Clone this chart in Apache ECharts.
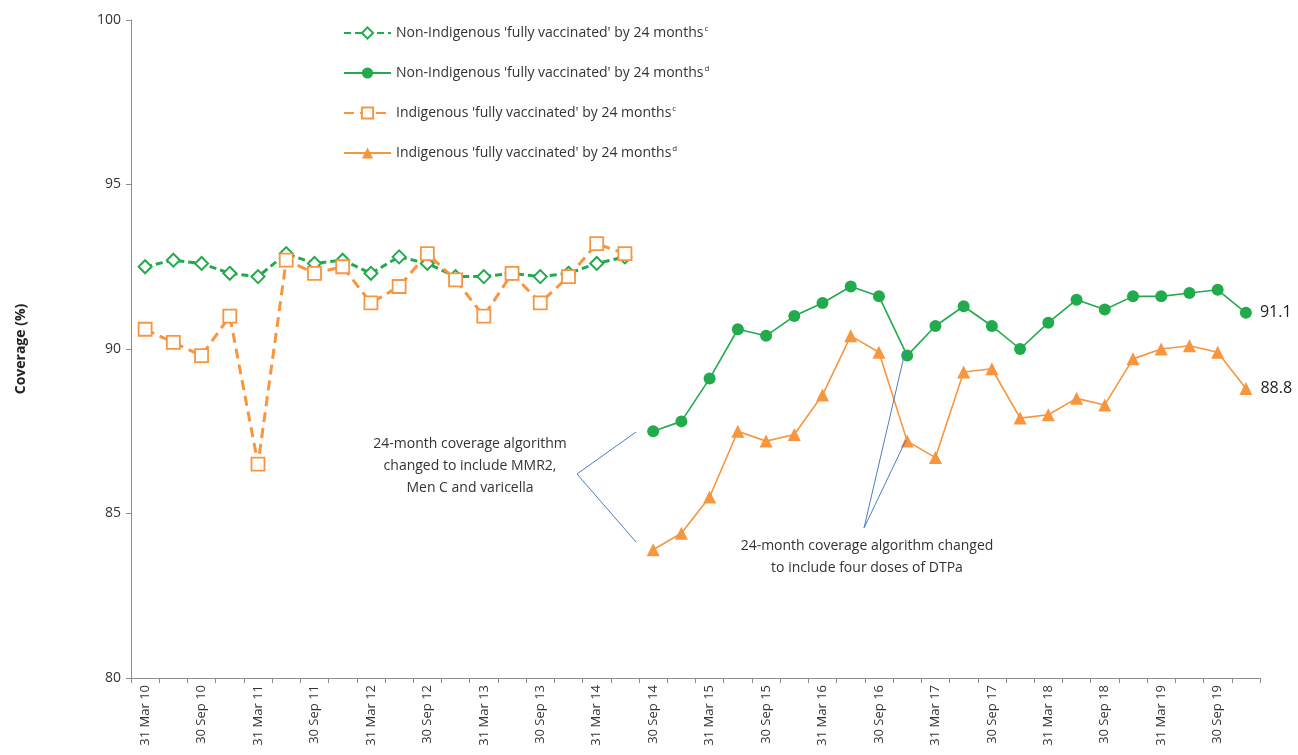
<!DOCTYPE html>
<html>
<head>
<meta charset="utf-8">
<script src="https://cdn.jsdelivr.net/npm/echarts@6/dist/echarts.min.js"></script>
<style>
  html, body { margin: 0; padding: 0; background: #fff; }
  #chart { width: 1298px; height: 755px; }
</style>
</head>
<body>
<div id="chart"></div>
<script>
// quarterly reporting dates, Mar 2010 .. Dec 2019
var months = ['31 Mar', '30 Jun', '30 Sep', '31 Dec'];
var categories = [];
for (var yr = 10; yr <= 19; yr++) {
  for (var q = 0; q < 4; q++) {
    categories.push(months[q] + ' ' + yr);
  }
}

// old algorithm (c), Mar 10 .. Jun 14
var nonIndigOld = [92.5, 92.7, 92.6, 92.3, 92.2, 92.9, 92.6, 92.7, 92.3, 92.8,
  92.6, 92.2, 92.2, 92.3, 92.2, 92.3, 92.6, 92.8];
var indigOld = [90.6, 90.2, 89.8, 91.0, 86.5, 92.7, 92.3, 92.5, 91.4, 91.9,
  92.9, 92.1, 91.0, 92.3, 91.4, 92.2, 93.2, 92.9];

// new algorithm (d), Sep 14 .. Dec 19
var nonIndigNew = [87.5, 87.8, 89.1, 90.6, 90.4, 91.0, 91.4, 91.9, 91.6, 89.8,
  90.7, 91.3, 90.7, 90.0, 90.8, 91.5, 91.2, 91.6, 91.6, 91.7, 91.8, 91.1];
var indigNew = [83.9, 84.4, 85.5, 87.5, 87.2, 87.4, 88.6, 90.4, 89.9, 87.2,
  86.7, 89.3, 89.4, 87.9, 88.0, 88.5, 88.3, 89.7, 90.0, 90.1, 89.9, 88.8];

var yTicks = [80, 85, 90, 95, 100];

var GREEN = '#22ab4c';
var ORANGE = '#f7963f';
var LEADER = '#4a7ec4';
var FONT = 'Open Sans';

// pad the series out to the full category range
function padOld(arr) {
  var out = arr.slice();
  while (out.length < categories.length) out.push(null);
  return out;
}
function padNew(arr) {
  var out = [];
  for (var i = 0; i < categories.length - arr.length; i++) out.push(null);
  return out.concat(arr);
}
function lastLabel(arr) {
  var d = padNew(arr);
  var last = d.length - 1;
  return d.map(function (v, i) {
    if (i !== last) return v;
    return {
      value: v,
      label: {
        show: true, position: 'right', distance: 8,
        color: '#222', fontSize: 16, fontFamily: FONT,
        formatter: function (p) { return p.value.toFixed(1); }
      }
    };
  });
}

var chart = echarts.init(document.getElementById('chart'));

var option = {
  animation: false,
  textStyle: { fontFamily: FONT },
  grid: { left: 131, right: 38, top: 20, bottom: 77 },
  legend: {
    orient: 'vertical',
    left: 338,
    top: 20,
    itemGap: 25,
    itemWidth: 47,
    itemHeight: 14,
    textStyle: {
      fontSize: 14, color: '#333', fontFamily: FONT,
      rich: { sup: { fontSize: 8, color: '#333', padding: [0, 0, 8, 1] } }
    },
    formatter: function (name) {
      var s = name.slice(-1);
      return name.slice(0, -1) + '{sup|' + s + '}';
    },
    data: [
      "Non-Indigenous 'fully vaccinated' by 24 monthsc",
      "Non-Indigenous 'fully vaccinated' by 24 monthsd",
      "Indigenous 'fully vaccinated' by 24 monthsc",
      "Indigenous 'fully vaccinated' by 24 monthsd"
    ]
  },
  xAxis: {
    type: 'category',
    data: categories,
    boundaryGap: true,
    axisLine: { lineStyle: { color: '#8c8c8c', width: 1 } },
    axisTick: { show: true, interval: 0, length: 5, lineStyle: { color: '#8c8c8c' } },
    axisLabel: {
      interval: 1, rotate: 90, fontSize: 13, color: '#333', margin: 7, fontFamily: FONT
    },
    splitLine: { show: false }
  },
  yAxis: {
    type: 'value',
    min: 80,
    max: 100,
    interval: 5,
    name: 'Coverage (%)',
    nameLocation: 'middle',
    nameGap: 103,
    nameTextStyle: { fontSize: 14, fontWeight: 'bold', color: '#222', fontFamily: FONT },
    axisLine: { show: true, lineStyle: { color: '#8c8c8c', width: 1 } },
    axisTick: { show: true, length: 5, lineStyle: { color: '#8c8c8c' } },
    axisLabel: {
      fontSize: 14, color: '#333', margin: 10, fontFamily: FONT,
      formatter: function (v) { return yTicks.indexOf(v) >= 0 ? String(v) : ''; }
    },
    splitLine: { show: false }
  },
  series: [
    {
      name: "Non-Indigenous 'fully vaccinated' by 24 monthsc",
      type: 'line',
      data: padOld(nonIndigOld),
      symbol: 'diamond',
      symbolSize: 13,
      showAllSymbol: true,
      lineStyle: { color: GREEN, width: 3, type: [7, 4] },
      itemStyle: { color: '#fff', borderColor: GREEN, borderWidth: 2 },
      z: 3
    },
    {
      name: "Non-Indigenous 'fully vaccinated' by 24 monthsd",
      type: 'line',
      data: lastLabel(nonIndigNew),
      symbol: 'circle',
      symbolSize: 12,
      showAllSymbol: true,
      lineStyle: { color: GREEN, width: 1.6 },
      itemStyle: { color: GREEN, borderColor: GREEN, borderWidth: 0 }
    },
    {
      name: "Indigenous 'fully vaccinated' by 24 monthsc",
      type: 'line',
      data: padOld(indigOld),
      symbol: 'rect',
      symbolSize: 13,
      showAllSymbol: true,
      lineStyle: { color: ORANGE, width: 3, type: [10, 6] },
      itemStyle: { color: '#fff', borderColor: ORANGE, borderWidth: 1.8 },
      z: 4
    },
    {
      name: "Indigenous 'fully vaccinated' by 24 monthsd",
      type: 'line',
      data: lastLabel(indigNew),
      symbol: 'triangle',
      symbolSize: 13,
      showAllSymbol: true,
      lineStyle: { color: ORANGE, width: 1.6 },
      itemStyle: { color: ORANGE, borderColor: ORANGE, borderWidth: 0 }
    }
  ],
  // annotation notes with leader lines
  graphic: [
    {
      type: 'text', x: 470, y: 433, z: 10,
      style: {
        text: '24-month coverage algorithm\nchanged to include MMR2,\nMen C and varicella',
        fontSize: 14, fontFamily: FONT, fill: '#333',
        align: 'center', verticalAlign: 'top', lineHeight: 22
      }
    },
    { type: 'line', shape: { x1: 577, y1: 474, x2: 636, y2: 432 }, style: { stroke: LEADER, lineWidth: 1 }, z: 10 },
    { type: 'line', shape: { x1: 577, y1: 474, x2: 636, y2: 542 }, style: { stroke: LEADER, lineWidth: 1 }, z: 10 },
    {
      type: 'text', x: 867, y: 535, z: 10,
      style: {
        text: '24-month coverage algorithm changed\nto include four doses of DTPa',
        fontSize: 14, fontFamily: FONT, fill: '#333',
        align: 'center', verticalAlign: 'top', lineHeight: 22
      }
    },
    { type: 'line', shape: { x1: 864, y1: 528, x2: 905, y2: 352 }, style: { stroke: LEADER, lineWidth: 1 }, z: 10 },
    { type: 'line', shape: { x1: 864, y1: 528, x2: 906, y2: 440 }, style: { stroke: LEADER, lineWidth: 1 }, z: 10 }
  ]
};

chart.setOption(option);
</script>
</body>
</html>
